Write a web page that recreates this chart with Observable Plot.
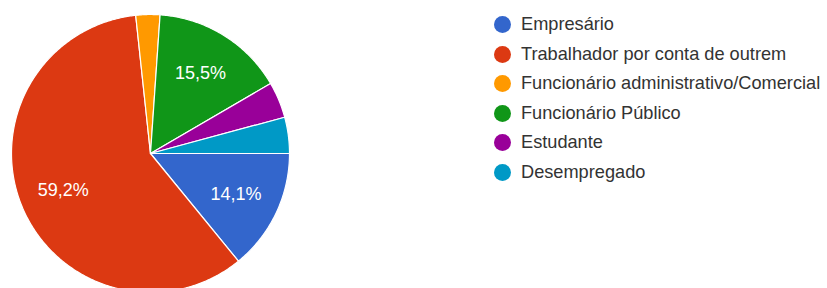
<!DOCTYPE html>
<html>
<head>
<meta charset="utf-8">
<script src="https://cdn.jsdelivr.net/npm/d3@7"></script>
<script src="https://cdn.jsdelivr.net/npm/@observablehq/plot@0.6"></script>
<style>
  html, body { margin: 0; padding: 0; background: #fff; }
  #wrap { position: relative; width: 827px; height: 288px; overflow: hidden; }
  #legend { position: absolute; left: 494px; top: 10px; font-family: Arial, "Liberation Sans", sans-serif; font-size: 18.2px; color: #333; }
  .row { display: flex; align-items: center; height: 29.5px; white-space: nowrap; }
  .sw { width: 17px; height: 17px; border-radius: 50%; margin-right: 10px; flex: none; }
</style>
</head>
<body>
<div id="wrap"><div id="legend"></div></div>
<script>
const categories = ["Empresário", "Trabalhador por conta de outrem", "Funcionário administrativo/Comercial", "Funcionário Público", "Estudante", "Desempregado"];
const percents = [14.1, 59.2, 2.8, 15.5, 4.2, 4.2];
const colors = ["#3366cc", "#dc3912", "#ff9900", "#109618", "#990099", "#0099c6"];
const labelMin = 5; // show labels only for slices above this percent

const R = 139, cx = 150, cy = 153;

const arcs = d3.pie().sort(null).startAngle(Math.PI / 2).endAngle(Math.PI / 2 + 2 * Math.PI)(percents);

const poly = [];
arcs.forEach((a, i) => {
  const name = categories[i];
  poly.push({name, x: 0, y: 0});
  const n = Math.max(4, Math.ceil((a.endAngle - a.startAngle) / 0.01));
  for (let k = 0; k <= n; k++) {
    const t = a.startAngle + (a.endAngle - a.startAngle) * k / n;
    poly.push({name, x: Math.sin(t), y: Math.cos(t)});
  }
  poly.push({name, x: 0, y: 0});
});

const labels = arcs.map((a, i) => {
  const m = (a.startAngle + a.endAngle) / 2;
  return {name: categories[i], value: percents[i], x: 0.68 * Math.sin(m), y: 0.68 * Math.cos(m)};
}).filter(d => d.value > labelMin);

const chart = Plot.plot({
  width: 827,
  height: 288,
  margin: 0,
  x: {domain: [-1, 1], range: [cx - R, cx + R], axis: null},
  y: {domain: [-1, 1], range: [cy + R, cy - R], axis: null},
  color: {domain: categories, range: colors},
  style: {fontFamily: "Arial, 'Liberation Sans', sans-serif", background: "#fff"},
  marks: [
    Plot.line(poly, {x: "x", y: "y", z: "name", fill: "name", stroke: "white", strokeWidth: 1.2, strokeLinejoin: "round"}),
    Plot.text(labels, {x: "x", y: "y", text: d => d.value.toFixed(1).replace(".", ",") + "%", fill: "white", fontSize: 18})
  ]
});
document.getElementById("wrap").prepend(chart);

const leg = document.getElementById("legend");
categories.forEach((c, i) => {
  const row = document.createElement("div");
  row.className = "row";
  const sw = document.createElement("span");
  sw.className = "sw";
  sw.style.background = colors[i];
  const tx = document.createElement("span");
  tx.textContent = c;
  row.appendChild(sw);
  row.appendChild(tx);
  leg.appendChild(row);
});
</script>
</body>
</html>
